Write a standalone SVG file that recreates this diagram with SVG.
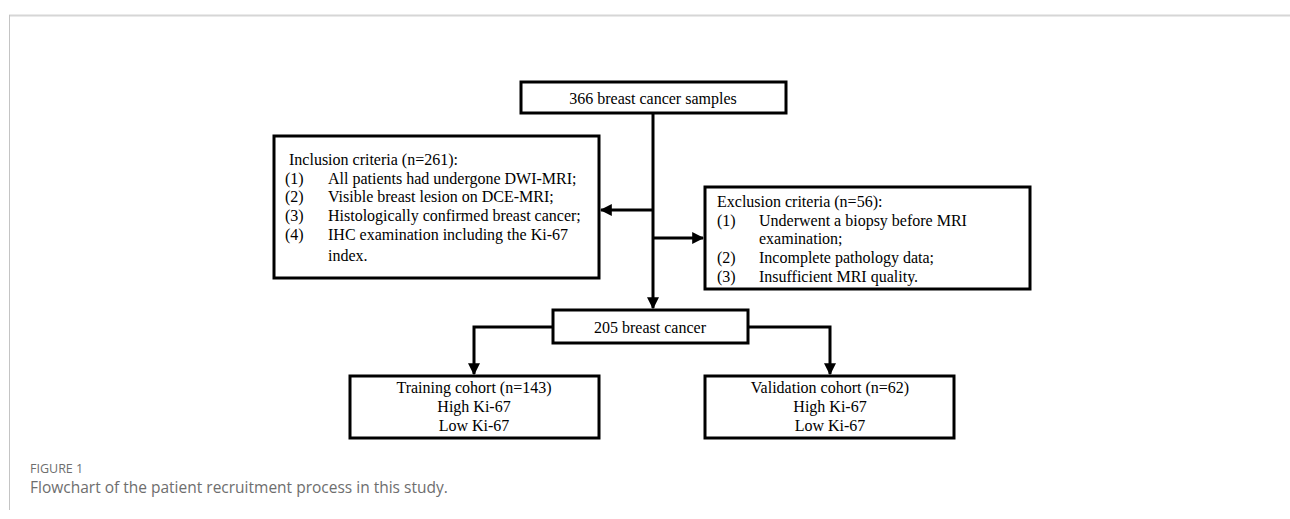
<svg xmlns="http://www.w3.org/2000/svg" width="1290" height="519" viewBox="0 0 1290 519">
<defs>
<style>
.box{fill:#fff;stroke:#000;stroke-width:3}
.t{font-family:"Liberation Serif","Times New Roman",serif;font-size:16px;fill:#000}
.c{text-anchor:middle}
.ln{fill:none;stroke:#000;stroke-width:3}
.cap{font-family:"Open Sans","Noto Sans",sans-serif;fill:#6e6e6e}
</style>
<marker id="ah" viewBox="0 0 10 10" refX="9" refY="5" markerWidth="4" markerHeight="4" orient="auto" markerUnits="strokeWidth">
<path d="M0,0 L10,5 L0,10 z" fill="#000"/>
</marker>
</defs>
<rect width="1290" height="519" fill="#fff"/>
<line x1="9" y1="15.5" x2="1290" y2="15.5" stroke="#d6d6d6" stroke-width="2"/>
<line x1="9.5" y1="15" x2="9.5" y2="510" stroke="#c4c4c4" stroke-width="1"/>

<g id="connectors">
<line class="ln" x1="653" y1="113" x2="653" y2="308" marker-end="url(#ah)"/>
<line class="ln" x1="653" y1="210" x2="601" y2="210" marker-end="url(#ah)"/>
<line class="ln" x1="653" y1="238" x2="703" y2="238" marker-end="url(#ah)"/>
<polyline class="ln" points="552,327 474,327 474,374" marker-end="url(#ah)"/>
<polyline class="ln" points="748,327 830,327 830,374" marker-end="url(#ah)"/>
</g>

<g id="node-samples">
<rect class="box" x="521" y="82" width="265" height="31"/>
<text class="t c" x="653" y="104">366 breast cancer samples</text>
</g>

<g id="node-inclusion">
<rect class="box" x="274" y="136" width="325" height="142"/>
<text class="t" x="289" y="165">Inclusion criteria (n=261):</text>
<text class="t" x="285" y="184">(1)</text><text class="t" x="328" y="184">All patients had undergone DWI-MRI;</text>
<text class="t" x="285" y="202">(2)</text><text class="t" x="328" y="202">Visible breast lesion on DCE-MRI;</text>
<text class="t" x="285" y="221">(3)</text><text class="t" x="328" y="221">Histologically confirmed breast cancer;</text>
<text class="t" x="285" y="240">(4)</text><text class="t" x="328" y="240">IHC examination including the Ki-67</text>
<text class="t" x="328" y="261">index.</text>
</g>

<g id="node-exclusion">
<rect class="box" x="705" y="187" width="325" height="102"/>
<text class="t" x="717" y="207">Exclusion criteria (n=56):</text>
<text class="t" x="717" y="226">(1)</text><text class="t" x="759" y="226">Underwent a biopsy before MRI</text>
<text class="t" x="759" y="244">examination;</text>
<text class="t" x="717" y="263">(2)</text><text class="t" x="759" y="263">Incomplete pathology data;</text>
<text class="t" x="717" y="282">(3)</text><text class="t" x="759" y="282">Insufficient MRI quality.</text>
</g>

<g id="node-205">
<rect class="box" x="553" y="310" width="195" height="33"/>
<text class="t c" x="650" y="333">205 breast cancer</text>
</g>

<g id="node-training">
<rect class="box" x="350" y="376" width="249" height="62"/>
<text class="t c" x="474" y="393">Training cohort (n=143)</text>
<text class="t c" x="474" y="412">High Ki-67</text>
<text class="t c" x="474" y="431">Low Ki-67</text>
</g>

<g id="node-validation">
<rect class="box" x="705" y="376" width="249" height="62"/>
<text class="t c" x="830" y="393">Validation cohort (n=62)</text>
<text class="t c" x="830" y="412">High Ki-67</text>
<text class="t c" x="830" y="431">Low Ki-67</text>
</g>

<text class="cap" x="30" y="473" font-size="12.5">FIGURE 1</text>
<text class="cap" x="30" y="493" font-size="15.5">Flowchart of the patient recruitment process in this study.</text>
</svg>
